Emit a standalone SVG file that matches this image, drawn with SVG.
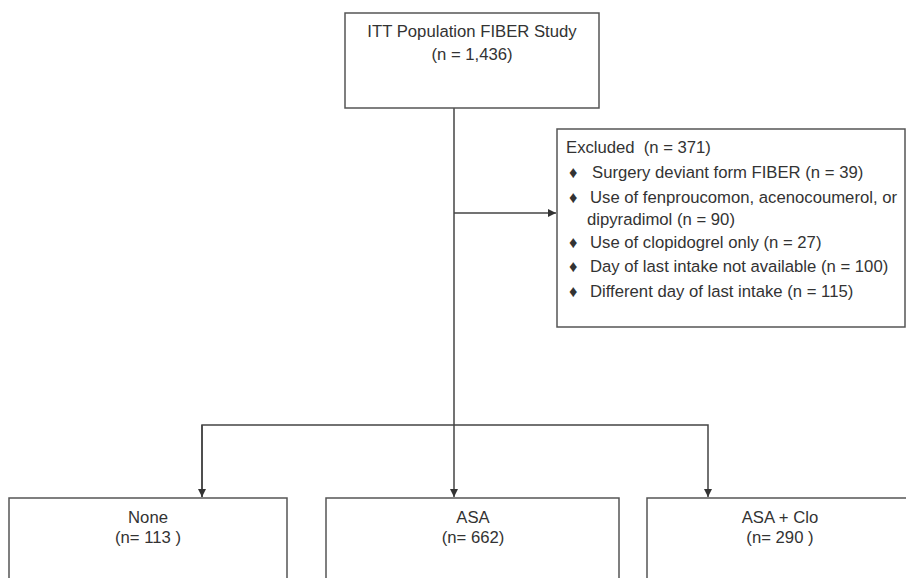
<svg xmlns="http://www.w3.org/2000/svg" width="906" height="578" viewBox="0 0 906 578">
<defs>
<style>
.box{fill:#fff;stroke:#555;stroke-width:1.5}
.ln{fill:none;stroke:#444;stroke-width:1.5}
text{font-family:"Liberation Sans",Arial,sans-serif;font-size:16.7px;fill:#333}
.c{text-anchor:middle}
</style>
<marker id="ah" viewBox="0 0 10 10" refX="10" refY="5" markerWidth="8" markerHeight="8" markerUnits="userSpaceOnUse" orient="auto">
<path d="M0,0 L10,5 L0,10 z" fill="#333"/>
</marker>
</defs>
<rect width="906" height="578" fill="#fff"/>
<g id="connectors">
<line class="ln" x1="454" y1="108" x2="454" y2="497" marker-end="url(#ah)"/>
<line class="ln" x1="454" y1="213" x2="556" y2="213" marker-end="url(#ah)"/>
<polyline class="ln" points="202,497 202,425 708,425 708,497" marker-end="url(#ah)"/>
<line class="ln" x1="202" y1="425" x2="202" y2="497" marker-end="url(#ah)"/>
</g>
<g id="itt">
<rect class="box" x="345" y="13" width="254" height="95"/>
<text class="c" x="472" y="37">ITT Population FIBER Study</text>
<text class="c" x="472" y="60">(n = 1,436)</text>
</g>
<g id="excluded">
<rect class="box" x="557" y="129" width="348" height="198"/>
<text x="566" y="153">Excluded<tspan dx="9">(n = 371)</tspan></text>
<text x="569" y="178">♦</text><text x="592" y="178">Surgery deviant form FIBER (n = 39)</text>
<text x="569" y="203">♦</text><text x="590" y="203">Use of fenproucomon, acenocoumerol, or</text>
<text x="587" y="225">dipyradimol (n = 90)</text>
<text x="569" y="248">♦</text><text x="590" y="248">Use of clopidogrel only (n = 27)</text>
<text x="569" y="272">♦</text><text x="590" y="272">Day of last intake not available (n = 100)</text>
<text x="569" y="297">♦</text><text x="590" y="297">Different day of last intake (n = 115)</text>
</g>
<g id="none">
<rect class="box" x="9" y="498" width="278" height="100"/>
<text class="c" x="148" y="523">None</text>
<text class="c" x="148" y="543">(n= 113 )</text>
</g>
<g id="asa">
<rect class="box" x="326" y="498" width="293" height="100"/>
<text class="c" x="473" y="523">ASA</text>
<text class="c" x="473" y="543">(n= 662)</text>
</g>
<g id="asaclo">
<rect class="box" x="647" y="498" width="280" height="100"/>
<text class="c" x="780" y="523">ASA + Clo</text>
<text class="c" x="780" y="543">(n= 290 )</text>
</g>
</svg>
